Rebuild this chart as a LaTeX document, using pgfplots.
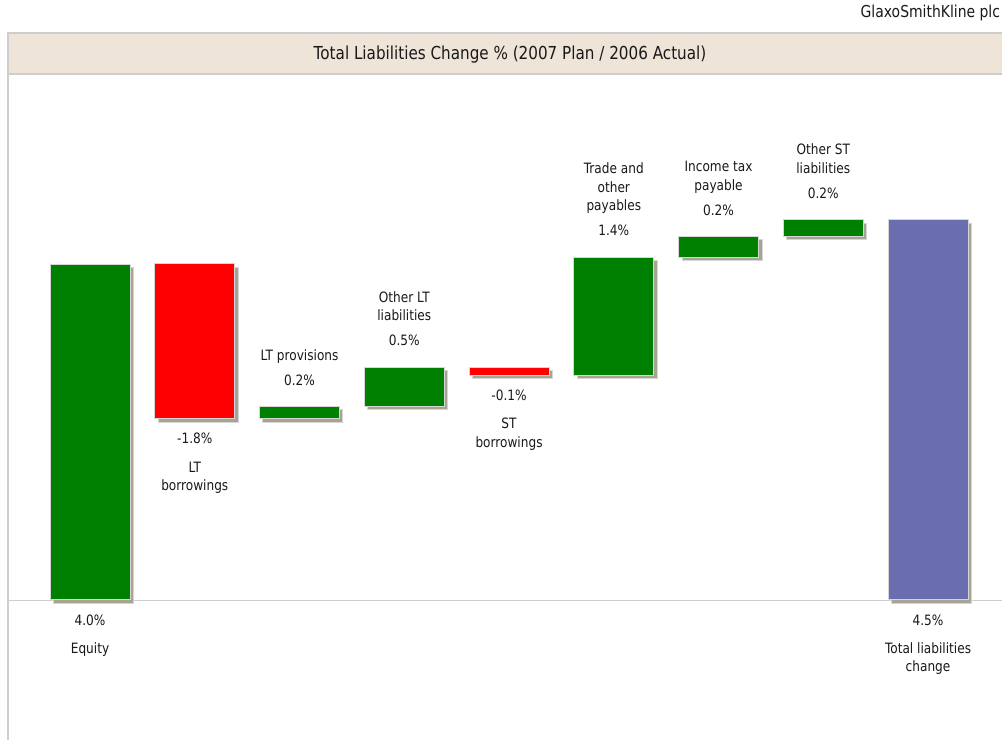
\documentclass[border=0pt]{standalone}
\usepackage{fontspec}
\setmainfont[FakeStretch=0.85]{DejaVu Sans}
\usepackage{pgfplots}
\usepackage{pgfplotstable}
\pgfplotsset{compat=1.18}
\usetikzlibrary{shadows}

\definecolor{barGreen}{RGB}{0,128,0}
\definecolor{barRed}{RGB}{255,0,0}
\definecolor{barBlue}{RGB}{106,109,175}
\definecolor{shade}{RGB}{168,164,148}
\definecolor{edge}{RGB}{214,214,214}
\definecolor{band}{RGB}{238,228,216}
\definecolor{rule}{RGB}{206,206,206}

% waterfall: invisible base + visible step
\pgfplotstableread{
x base  up    down  total
0 0     4.000 0     0
1 2.158 0     1.843 0
2 2.158 0.146 0     0
3 2.304 0.469 0     0
4 2.675 0     0.098 0
5 2.675 1.406 0     0
6 4.081 0.247 0     0
7 4.328 0.200 0     0
8 0     0     0     4.528
}\liab

\begin{document}
\begin{tikzpicture}[font=\fontsize{10.7}{13.7}\selectfont, text=black!90]
\useasboundingbox (0,0) rectangle (751.5pt,555pt);
% title band
\fill[band] (6pt,499.5pt) rectangle (753pt,530.25pt);
\draw[rule, line width=1.4pt] (753pt,530.25pt) -- (6pt,530.25pt) -- (6pt,0pt);
\draw[rule, line width=1.4pt] (6pt,499.5pt) -- (753pt,499.5pt);
\draw[rule, line width=1.4pt] (6pt,104.6pt) -- (753pt,104.6pt);
\node[font=\fontsize{13.4}{16}\selectfont] at (382.5pt,513.75pt)
  {Total Liabilities Change \% (2007 Plan / 2006 Actual)};
\node[anchor=east, font=\fontsize{12.3}{15}\selectfont] at (753.5pt,545.25pt)
  {GlaxoSmithKline plc};

\begin{axis}[
  at={(6pt,0pt)}, anchor=south west,
  scale only axis, width=745.5pt, height=499.5pt,
  xmin=-0.783, xmax=8.706, ymin=-1.667, ymax=6.262,
  hide axis, clip=false,
  ybar stacked, bar width=60pt,
  wf/.style={draw=edge, line width=0.75pt,
    drop shadow={shadow xshift=2.6pt, shadow yshift=-2.6pt, fill=shade, opacity=1}},
]
\addplot[fill=none, draw=none] table[x=x,y=base]{\liab};
\addplot[wf, fill=barGreen] table[x=x,y=up]{\liab};
\addplot[wf, fill=barRed] table[x=x,y=down]{\liab};
\addplot[wf, fill=barBlue] table[x=x,y=total]{\liab};

% labels below bars
\node[anchor=mid, yshift=-16.1pt] at (axis cs:0,0) {4.0\%};
\node[anchor=mid, yshift=-37.5pt] at (axis cs:0,0) {Equity};
\node[anchor=mid, yshift=-16.1pt] at (axis cs:1,2.158) {-1.8\%};
\node[anchor=mid, yshift=-37.5pt] at (axis cs:1,2.158) {LT};
\node[anchor=mid, yshift=-51.2pt] at (axis cs:1,2.158) {borrowings};
\node[anchor=mid, yshift=-16.1pt] at (axis cs:4,2.675) {-0.1\%};
\node[anchor=mid, yshift=-37.5pt] at (axis cs:4,2.675) {ST};
\node[anchor=mid, yshift=-51.2pt] at (axis cs:4,2.675) {borrowings};
\node[anchor=mid, yshift=-16.1pt] at (axis cs:8,0) {4.5\%};
\node[anchor=mid, yshift=-37.5pt] at (axis cs:8,0) {Total liabilities};
\node[anchor=mid, yshift=-51.2pt] at (axis cs:8,0) {change};
% labels above bars
\node[anchor=mid, yshift=18.75pt] at (axis cs:2,2.304) {0.2\%};
\node[anchor=mid, yshift=37.5pt] at (axis cs:2,2.304) {LT provisions};
\node[anchor=mid, yshift=18.75pt] at (axis cs:3,2.773) {0.5\%};
\node[anchor=mid, yshift=37.5pt] at (axis cs:3,2.773) {liabilities};
\node[anchor=mid, yshift=51.4pt] at (axis cs:3,2.773) {Other LT};
\node[anchor=mid, yshift=18.75pt] at (axis cs:5,4.081) {1.4\%};
\node[anchor=mid, yshift=37.5pt] at (axis cs:5,4.081) {payables};
\node[anchor=mid, yshift=51.4pt] at (axis cs:5,4.081) {other};
\node[anchor=mid, yshift=65.3pt] at (axis cs:5,4.081) {Trade and};
\node[anchor=mid, yshift=18.75pt] at (axis cs:6,4.328) {0.2\%};
\node[anchor=mid, yshift=37.5pt] at (axis cs:6,4.328) {payable};
\node[anchor=mid, yshift=51.4pt] at (axis cs:6,4.328) {Income tax};
\node[anchor=mid, yshift=18.75pt] at (axis cs:7,4.528) {0.2\%};
\node[anchor=mid, yshift=37.5pt] at (axis cs:7,4.528) {liabilities};
\node[anchor=mid, yshift=51.4pt] at (axis cs:7,4.528) {Other ST};
\end{axis}
\end{tikzpicture}
\end{document}
